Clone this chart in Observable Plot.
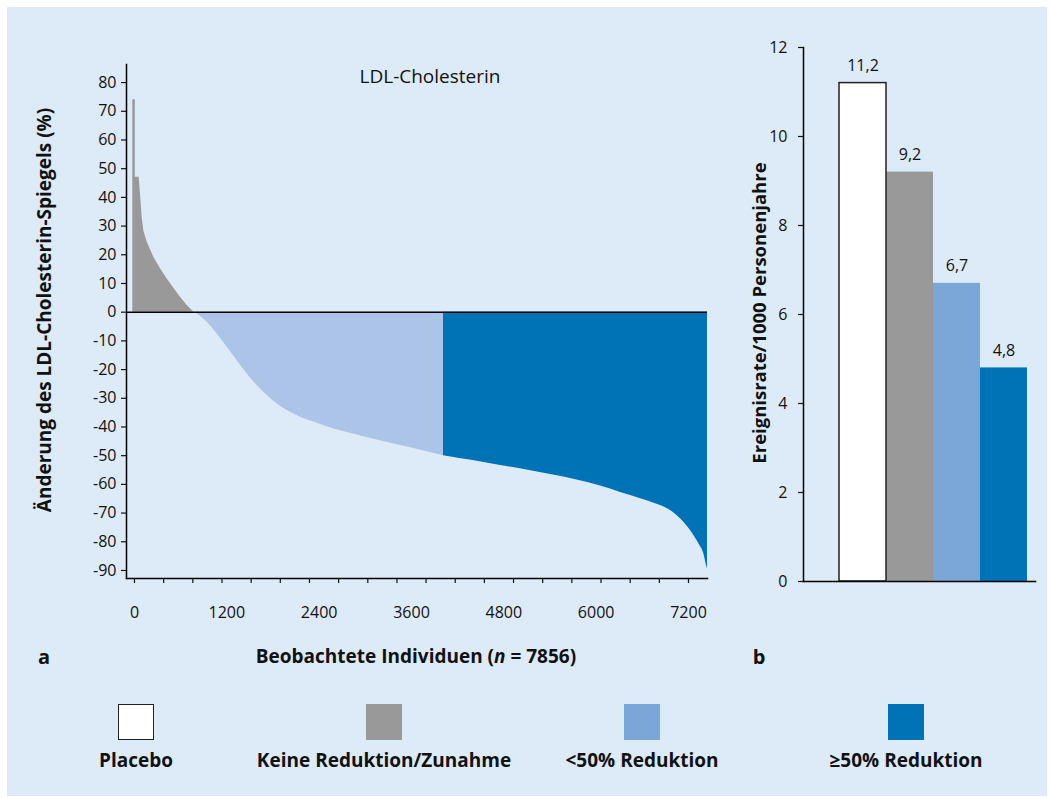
<!DOCTYPE html>
<html><head><meta charset="utf-8">
<script src="https://cdn.jsdelivr.net/npm/d3@7"></script>
<script src="https://cdn.jsdelivr.net/npm/@observablehq/plot@0.6"></script>
<style>
body{margin:0;background:#fff;font-family:"Open Sans",sans-serif;color:#111;}
#page{position:relative;width:1052px;height:797px;overflow:hidden;}
#panel{position:absolute;left:7px;top:7px;width:1040px;height:789px;background:#ddeaf7;}
.abs{position:absolute;}
.c{position:absolute;transform:translate(-50%,-50%);white-space:nowrap;}
.rot{position:absolute;transform:translate(-50%,-50%) rotate(-90deg);white-space:nowrap;font-weight:bold;}
.b{font-weight:bold;}
.sw{position:absolute;width:36px;height:36px;transform:translateX(-50%);box-sizing:border-box;}
</style></head><body>
<div id="page">
<div id="panel"></div>
<div id="left" class="abs" style="left:0;top:0"></div>
<div id="right" class="abs" style="left:740px;top:0"></div>
<div id="overlay"></div>
</div>
<script>
// ---- Panel a: sorted LDL-cholesterol change per individual ----
const grayX = [-22, -22, 10, 10, 60, 78, 100, 121, 165, 251, 338, 425, 511, 598, 685, 771];
const grayY = [0, 74, 74, 47, 47, 41, 33, 28.4, 24.4, 19.1, 15.1, 11.6, 8.3, 5.2, 2.3, 0];
const lightX = [771, 815, 945, 1075, 1205, 1335, 1465, 1595, 1725, 1855, 1985, 2158, 2375, 2591, 2808, 3100, 3457, 3750, 4016];
const lightY = [0, -0.6, -3.5, -7.6, -12.2, -16.9, -21.5, -25.6, -29, -32, -34.3, -36.6, -38.7, -40.7, -42.2, -44.2, -46.5, -48.3, -50];
const darkX = [4016, 4400, 4757, 5100, 5407, 5750, 6057, 6317, 6577, 6836, 6966, 7096, 7226, 7334, 7399, 7434, 7447];
const darkY = [-50, -51.7, -53.4, -55, -56.6, -58.5, -60.6, -62.8, -65, -67.4, -69.1, -72, -76.1, -80.7, -84.2, -88.3, -89.5];
const yTicksA = [80, 70, 60, 50, 40, 30, 20, 10, 0, -10, -20, -30, -40, -50, -60, -70, -80, -90];
const xLabelsA = [0, 1200, 2400, 3600, 4800, 6000, 7200];
const xMinorA = [0, 379, 758, 1137, 1516, 1895, 2274, 2653, 3032, 3411, 3789, 4168, 4547, 4926, 5305, 5684, 6063, 6442, 6821, 7200];

// ---- Panel b: event rates ----
const cats = ["Placebo", "Keine Reduktion/Zunahme", "<50% Reduktion", "≥50% Reduktion"];
const rates = [11.2, 9.2, 6.7, 4.8];
const catColors = ["#ffffff", "#999999", "#7ba6d8", "#0073b7"];
const yTicksB = [0, 2, 4, 6, 8, 10, 12];

const areaLight = "#abc4e8";
const font = '"Open Sans", sans-serif';

const toRows = (xs, ys) => xs.map((x, i) => ({x, y: ys[i]}));
const grayRows = toRows(grayX, grayY);
const lightRows = toRows(lightX, lightY);
const darkRows = toRows(darkX, darkY);

const plotA = Plot.plot({
  width: 740, height: 640,
  marginLeft: 126, marginRight: 33, marginTop: 64, marginBottom: 62,
  style: {background: "transparent", fontFamily: font, fontSize: "16px", color: "#111", overflow: "visible"},
  x: {domain: [-104, 7447]},
  y: {domain: [-92.8, 86.3]},
  marks: [
    Plot.areaY(grayRows, {x: "x", y1: 0, y2: "y", fill: catColors[1], curve: "linear"}),
    Plot.areaY(lightRows, {x: "x", y1: 0, y2: "y", fill: areaLight, curve: "monotone-x"}),
    Plot.areaY(darkRows, {x: "x", y1: 0, y2: "y", fill: catColors[3], curve: "monotone-x"}),
    Plot.ruleY([0], {stroke: "#000", strokeWidth: 1.5}),
    Plot.frame({anchor: "left", stroke: "#000", strokeWidth: 1.5}),
    Plot.frame({anchor: "bottom", stroke: "#000", strokeWidth: 1.5}),
    Plot.axisY({ticks: yTicksA, tickSize: 5, tickPadding: 5, label: null, tickFormat: d => String(d), strokeWidth: 1.2}),
    Plot.axisX({ticks: xMinorA, tickSize: 5, text: null, label: null, strokeWidth: 1.2}),
    Plot.axisX({ticks: xLabelsA, tickSize: 0, tickPadding: 28, label: null, tickFormat: d => String(d)})
  ]
});
document.getElementById("left").appendChild(plotA);

const bars = cats.map((c, i) => ({cat: c, val: rates[i]}));
const plotB = Plot.plot({
  width: 312, height: 640,
  marginLeft: 63, marginRight: 17, marginTop: 47, marginBottom: 59,
  style: {background: "transparent", fontFamily: font, fontSize: "16px", color: "#111", overflow: "visible"},
  x: {domain: cats, paddingInner: 0, paddingOuter: 0.468, align: 0.818, axis: null},
  y: {domain: [0, 12]},
  color: {domain: cats, range: catColors},
  marks: [
    Plot.barY(bars, {x: "cat", y: "val", fill: "cat", inset: 0}),
    Plot.barY(bars.filter(d => d.cat === cats[0]), {x: "cat", y: "val", fill: "none", stroke: "#222", strokeWidth: 1.5, inset: 0}),
    Plot.text(bars, {x: "cat", y: "val", text: d => String(d.val).replace(".", ","), dy: -17, fontSize: 16, fill: "#111"}),
    Plot.frame({anchor: "left", stroke: "#000", strokeWidth: 1.5}),
    Plot.frame({anchor: "bottom", stroke: "#000", strokeWidth: 1.5}),
    Plot.axisY({ticks: yTicksB, tickSize: 5, tickPadding: 11, label: null, strokeWidth: 1.2})
  ]
});
document.getElementById("right").appendChild(plotB);

// ---- overlays: titles, axis labels, legend ----
const ov = document.getElementById("overlay");
function add(html, cls, x, y, extra) {
  const d = document.createElement("div");
  d.className = cls;
  d.style.left = x + "px";
  d.style.top = y + "px";
  if (extra) Object.assign(d.style, extra);
  d.innerHTML = html;
  ov.appendChild(d);
}
add("Änderung des LDL-Cholesterin-Spiegels (%)", "rot", 44, 310, {fontSize: "19px"});
add("Ereignisrate/1000 Personenjahre", "rot", 758, 313, {fontSize: "18.5px"});
add("LDL-Cholesterin", "c", 430, 76, {fontSize: "19px"});
add("a", "c b", 44, 656, {fontSize: "20px"});
add("b", "c b", 759, 656, {fontSize: "20px"});
add("Beobachtete Individuen (<i>n</i> = 7856)", "c b", 416, 656, {fontSize: "19px"});

const legendX = [136, 384, 642, 906];
cats.forEach((c, i) => {
  const sw = document.createElement("div");
  sw.className = "sw";
  sw.style.left = legendX[i] + "px";
  sw.style.top = "704px";
  sw.style.background = catColors[i];
  if (i === 0) sw.style.border = "1.5px solid #222";
  ov.appendChild(sw);
  add(c, "c b", legendX[i], 760, {fontSize: "19px"});
});
</script>
</body></html>
